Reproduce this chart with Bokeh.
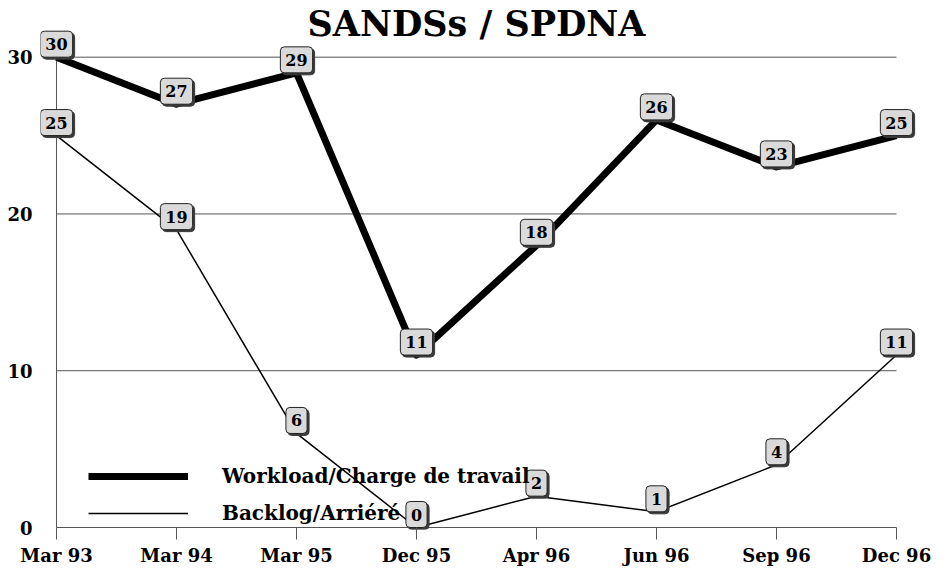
from bokeh.plotting import figure
from bokeh.models import Range1d, FixedTicker, Legend, LegendItem, Label, ColumnDataSource
from bokeh.core.properties import value
from bokeh.embed import file_html
from bokeh.resources import INLINE

categories = ["Mar 93", "Mar 94", "Mar 95", "Dec 95", "Apr 96", "Jun 96", "Sep 96", "Dec 96"]
workload = [30, 27, 29, 11, 18, 26, 23, 25]
backlog = [25, 19, 6, 0, 2, 1, 4, 11]
y_ticks = [0, 10, 20, 30]
title_text = "SANDSs / SPDNA"
workload_label = "Workload/Charge de travail"
backlog_label = "Backlog/Arriéré"

xs = list(range(len(categories)))
n_last = len(categories) - 1

FONT = "DejaVu Serif"
GRID = "#555555"

p = figure(width=931, height=568, output_backend="svg", toolbar_location=None,
           x_range=Range1d(-0.1333, 7.225), y_range=Range1d(-0.127, 33.615),
           min_border_left=40, min_border_right=8, min_border_top=0, min_border_bottom=36)
p.outline_line_color = None
p.xgrid.visible = False
p.ygrid.visible = False

# x axis
p.xaxis.ticker = FixedTicker(ticks=xs)
p.xaxis.major_label_overrides = {i: c for i, c in enumerate(categories)}
p.xaxis.axis_line_color = None
p.xaxis.major_tick_line_color = GRID
p.xaxis.major_tick_in = 2
p.xaxis.major_tick_out = 10
p.xaxis.minor_tick_line_color = None
p.xaxis.major_label_standoff = 5
p.xaxis.major_label_text_font = FONT
p.xaxis.major_label_text_font_style = "bold"
p.xaxis.major_label_text_font_size = "18px"
p.xaxis.major_label_text_color = "black"

# y axis
p.yaxis.ticker = FixedTicker(ticks=y_ticks)
p.yaxis.axis_line_color = None
p.yaxis.major_tick_line_color = None
p.yaxis.major_tick_in = 0
p.yaxis.major_tick_out = 0
p.yaxis.minor_tick_line_color = None
p.yaxis.major_label_standoff = 8
p.yaxis.major_label_text_font = FONT
p.yaxis.major_label_text_font_style = "bold"
p.yaxis.major_label_text_font_size = "18px"
p.yaxis.major_label_text_color = "black"

# grid lines and axis lines limited to the data extent
p.segment(x0=[0] * len(y_ticks), x1=[n_last] * len(y_ticks), y0=y_ticks, y1=y_ticks,
          line_color=GRID, line_width=1)
p.segment(x0=[0], x1=[0], y0=[min(y_ticks)], y1=[max(y_ticks)], line_color=GRID, line_width=1)

r_work = p.line(xs, workload, line_color="black", line_width=7, line_join="round")
r_back = p.line(xs, backlog, line_color="black", line_width=1.5)

PAD = dict(x=5, y=7)
for series in (workload, backlog):
    src = ColumnDataSource(dict(x=xs, y=series, t=[str(v) for v in series]))
    p.text(x="x", y="y", text="t", source=src, x_offset=2, y_offset=2,
           text_font=value(FONT), text_font_style="bold", text_font_size="16px",
           text_align="center", anchor="bottom_center", padding=PAD, border_radius=4,
           background_fill_color="#3a3a3a", border_line_color="#3a3a3a", text_alpha=0)
    p.text(x="x", y="y", text="t", source=src,
           text_font=value(FONT), text_font_style="bold", text_font_size="16px",
           text_align="center", anchor="bottom_center", padding=PAD, border_radius=4,
           background_fill_color="#dadada", border_line_color="#222222", border_line_width=1,
           text_color="black")

title = Label(x=n_last / 2, y=max(y_ticks), x_offset=0, y_offset=34, text=title_text,
              text_font=FONT, text_font_style="bold", text_font_size="35px",
              text_align="center", text_baseline="alphabetic", text_color="black")
p.add_layout(title)

legend = Legend(items=[LegendItem(label=workload_label, renderers=[r_work]),
                       LegendItem(label=backlog_label, renderers=[r_back])],
                location=(48, 1), glyph_width=100, glyph_height=30, label_height=30,
                label_standoff=34, spacing=7, padding=0, margin=0,
                border_line_color=None, background_fill_alpha=0,
                label_text_font=FONT, label_text_font_style="bold",
                label_text_font_size="20px", label_text_color="black")
p.add_layout(legend)

open("out.html", "w").write(file_html(p, INLINE))
